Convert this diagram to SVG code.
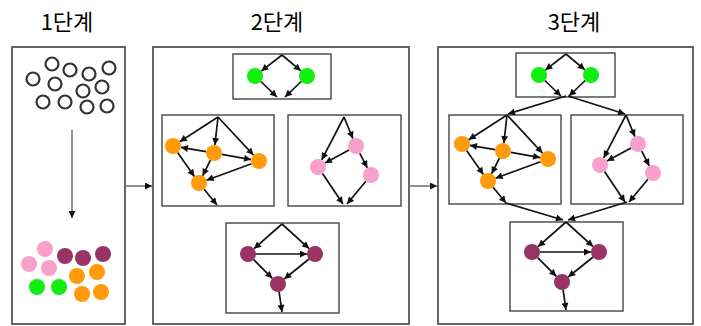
<svg xmlns="http://www.w3.org/2000/svg" width="701" height="326" viewBox="0 0 701 326">
<defs>
<marker id="ah" viewBox="0 0 10 10" refX="10" refY="5" markerWidth="8" markerHeight="7" orient="auto" markerUnits="userSpaceOnUse"><path d="M0,0 L10,5 L0,10 z" fill="#111"/></marker>
</defs>
<style>
.title{font-family:"Noto Sans CJK KR","Noto Sans",sans-serif;font-size:22px;font-weight:400;fill:#000;text-anchor:middle}
.panel{fill:#fff;stroke:#555;stroke-width:1.8}
.sub{fill:none;stroke:#444;stroke-width:1.4}
.e{stroke:#111;stroke-width:1.7;fill:none;marker-end:url(#ah)}
.ge{stroke:#777;stroke-width:1.6;fill:none;marker-end:url(#ah)}
.open{fill:#fff;stroke:#333;stroke-width:2.2}
.gr{fill:#11ee11}.or{fill:#ff9a0a}.pk{fill:#f7a0cc}.pu{fill:#993366}
</style>
<rect width="701" height="326" fill="#fff"/>
<text class="title" x="67" y="30">1단계</text>
<text class="title" x="277" y="30">2단계</text>
<text class="title" x="574" y="30">3단계</text>

<g id="panel1">
<rect class="panel" x="12" y="47" width="113" height="277"/>
<g id="unsorted">
<circle class="open" cx="52" cy="64" r="6.5"/><circle class="open" cx="70" cy="70" r="6.5"/><circle class="open" cx="89" cy="74" r="6.5"/><circle class="open" cx="109" cy="68" r="6.5"/>
<circle class="open" cx="33" cy="79" r="6.5"/><circle class="open" cx="55" cy="84" r="6.5"/><circle class="open" cx="83" cy="91" r="6.5"/><circle class="open" cx="102" cy="87" r="6.5"/>
<circle class="open" cx="43" cy="102" r="6.5"/><circle class="open" cx="65" cy="102" r="6.5"/><circle class="open" cx="87" cy="107" r="6.5"/><circle class="open" cx="107" cy="106" r="6.5"/>
</g>
<g id="sorted">
<circle class="pk" cx="45" cy="249" r="8"/><circle class="pk" cx="29" cy="264" r="8"/><circle class="pk" cx="49" cy="268" r="8"/>
<circle class="pu" cx="65" cy="256" r="8"/><circle class="pu" cx="83" cy="258" r="8"/><circle class="pu" cx="103" cy="254" r="8"/>
<circle class="or" cx="77" cy="276" r="8"/><circle class="or" cx="97" cy="272" r="8"/><circle class="or" cx="82" cy="294" r="8"/><circle class="or" cx="101" cy="292" r="8"/>
<circle class="gr" cx="37" cy="287" r="8"/><circle class="gr" cx="59" cy="287" r="8"/>
</g>
</g>

<g id="panel2">
<rect class="panel" x="153" y="47" width="256" height="277"/>
<rect class="sub" x="233" y="54" width="98" height="45"/>
<rect class="sub" x="162" y="115" width="112" height="91"/>
<rect class="sub" x="288" y="115" width="113" height="91"/>
<rect class="sub" x="226" y="223" width="113" height="90"/>
</g>

<g id="panel3">
<rect class="panel" x="438" y="47" width="255" height="277"/>
<rect class="sub" x="516" y="53" width="99" height="44"/>
<rect class="sub" x="449" y="115" width="112" height="89"/>
<rect class="sub" x="571" y="115" width="112" height="89"/>
<rect class="sub" x="510" y="222" width="113" height="89"/>
</g>

<g id="connectors">
<line class="ge" x1="72" y1="130" x2="72" y2="218"/>
<line class="ge" x1="125" y1="186" x2="152" y2="186"/>
<line class="ge" x1="409" y1="186" x2="437" y2="186"/>

<g id="c2-green">
<line class="e" x1="282" y1="55" x2="261.3" y2="71.1"/>
<line class="e" x1="282" y1="55" x2="300.9" y2="70.8"/>
<line class="e" x1="260.8" y1="81.5" x2="277" y2="97"/>
<line class="e" x1="301.2" y1="81.5" x2="285" y2="97"/>
</g>
<g id="c2-orange">
<line class="e" x1="218" y1="117" x2="179.7" y2="141.7"/>
<line class="e" x1="218" y1="117" x2="214.9" y2="145"/>
<line class="e" x1="218" y1="117" x2="253.5" y2="155.1"/>
<line class="e" x1="206.1" y1="151.7" x2="180.9" y2="147.3"/>
<line class="e" x1="221.9" y1="154.4" x2="251.1" y2="159.6"/>
<line class="e" x1="177.6" y1="152.5" x2="194.4" y2="176.5"/>
<line class="e" x1="210.4" y1="160.2" x2="202.6" y2="175.8"/>
<line class="e" x1="251.5" y1="163.8" x2="206.5" y2="180.2"/>
<line class="e" x1="204.1" y1="189.2" x2="217" y2="205"/>
</g>
<g id="c2-pink">
<line class="e" x1="344" y1="117" x2="352.9" y2="138.6"/>
<line class="e" x1="344" y1="117" x2="321.7" y2="159.9"/>
<line class="e" x1="349" y1="149.9" x2="325" y2="163.1"/>
<line class="e" x1="359.7" y1="153.1" x2="367.3" y2="167.9"/>
<line class="e" x1="322.5" y1="173.6" x2="343" y2="204"/>
<line class="e" x1="365.9" y1="181.2" x2="347" y2="204"/>
</g>
<g id="c2-purple">
<line class="e" x1="282" y1="224" x2="254" y2="248.7"/>
<line class="e" x1="282" y1="224" x2="309.1" y2="248.6"/>
<line class="e" x1="256" y1="254" x2="307" y2="254"/>
<line class="e" x1="253.7" y1="259.7" x2="272.3" y2="278.3"/>
<line class="e" x1="309.1" y1="259" x2="284.2" y2="279"/>
<line class="e" x1="279.1" y1="291.9" x2="282" y2="312"/>
</g>

<g id="c3-green" transform="translate(284,-1)">
<line class="e" x1="282" y1="55" x2="261.3" y2="71.1"/>
<line class="e" x1="282" y1="55" x2="300.9" y2="70.8"/>
<line class="e" x1="260.8" y1="81.5" x2="277" y2="97"/>
<line class="e" x1="301.2" y1="81.5" x2="285" y2="97"/>
</g>
<line class="e" x1="566" y1="96" x2="508" y2="114"/>
<line class="e" x1="568" y1="96" x2="625" y2="114"/>
<g id="c3-orange" transform="translate(289,-2)">
<line class="e" x1="218" y1="117" x2="179.7" y2="141.7"/>
<line class="e" x1="218" y1="117" x2="214.9" y2="145"/>
<line class="e" x1="218" y1="117" x2="253.5" y2="155.1"/>
<line class="e" x1="206.1" y1="151.7" x2="180.9" y2="147.3"/>
<line class="e" x1="221.9" y1="154.4" x2="251.1" y2="159.6"/>
<line class="e" x1="177.6" y1="152.5" x2="194.4" y2="176.5"/>
<line class="e" x1="210.4" y1="160.2" x2="202.6" y2="175.8"/>
<line class="e" x1="251.5" y1="163.8" x2="206.5" y2="180.2"/>
<line class="e" x1="204.1" y1="189.2" x2="217" y2="205"/>
</g>
<g id="c3-pink" transform="translate(282,-2)">
<line class="e" x1="344" y1="117" x2="352.9" y2="138.6"/>
<line class="e" x1="344" y1="117" x2="321.7" y2="159.9"/>
<line class="e" x1="349" y1="149.9" x2="325" y2="163.1"/>
<line class="e" x1="359.7" y1="153.1" x2="367.3" y2="167.9"/>
<line class="e" x1="322.5" y1="173.6" x2="343" y2="204"/>
<line class="e" x1="365.9" y1="181.2" x2="347" y2="204"/>
</g>
<line class="e" x1="506" y1="203" x2="563" y2="220"/>
<line class="e" x1="627" y1="202" x2="568" y2="220"/>
<g id="c3-purple" transform="translate(284,-2)">
<line class="e" x1="282" y1="224" x2="254" y2="248.7"/>
<line class="e" x1="282" y1="224" x2="309.1" y2="248.6"/>
<line class="e" x1="256" y1="254" x2="307" y2="254"/>
<line class="e" x1="253.7" y1="259.7" x2="272.3" y2="278.3"/>
<line class="e" x1="309.1" y1="259" x2="284.2" y2="279"/>
<line class="e" x1="279.1" y1="291.9" x2="282" y2="312"/>
</g>
</g>

<g id="p2-g1"><circle class="gr" cx="255" cy="76" r="8"/></g>
<g id="p2-g2"><circle class="gr" cx="307" cy="76" r="8"/></g>
<g id="p2-o1"><circle class="or" cx="173" cy="146" r="8"/></g>
<g id="p2-o2"><circle class="or" cx="214" cy="153" r="8"/></g>
<g id="p2-o3"><circle class="or" cx="259" cy="161" r="8"/></g>
<g id="p2-o4"><circle class="or" cx="199" cy="183" r="8"/></g>
<g id="p2-k1"><circle class="pk" cx="356" cy="146" r="8"/></g>
<g id="p2-k2"><circle class="pk" cx="318" cy="167" r="8"/></g>
<g id="p2-k3"><circle class="pk" cx="371" cy="175" r="8"/></g>
<g id="p2-u1"><circle class="pu" cx="248" cy="254" r="8"/></g>
<g id="p2-u2"><circle class="pu" cx="315" cy="254" r="8"/></g>
<g id="p2-u3"><circle class="pu" cx="278" cy="284" r="8"/></g>

<g id="p3-g1"><circle class="gr" cx="539" cy="75" r="8"/></g>
<g id="p3-g2"><circle class="gr" cx="591" cy="75" r="8"/></g>
<g id="p3-o1"><circle class="or" cx="462" cy="144" r="8"/></g>
<g id="p3-o2"><circle class="or" cx="503" cy="151" r="8"/></g>
<g id="p3-o3"><circle class="or" cx="548" cy="159" r="8"/></g>
<g id="p3-o4"><circle class="or" cx="488" cy="181" r="8"/></g>
<g id="p3-k1"><circle class="pk" cx="638" cy="144" r="8"/></g>
<g id="p3-k2"><circle class="pk" cx="600" cy="165" r="8"/></g>
<g id="p3-k3"><circle class="pk" cx="653" cy="173" r="8"/></g>
<g id="p3-u1"><circle class="pu" cx="532" cy="252" r="8"/></g>
<g id="p3-u2"><circle class="pu" cx="599" cy="252" r="8"/></g>
<g id="p3-u3"><circle class="pu" cx="562" cy="282" r="8"/></g>
</svg>
